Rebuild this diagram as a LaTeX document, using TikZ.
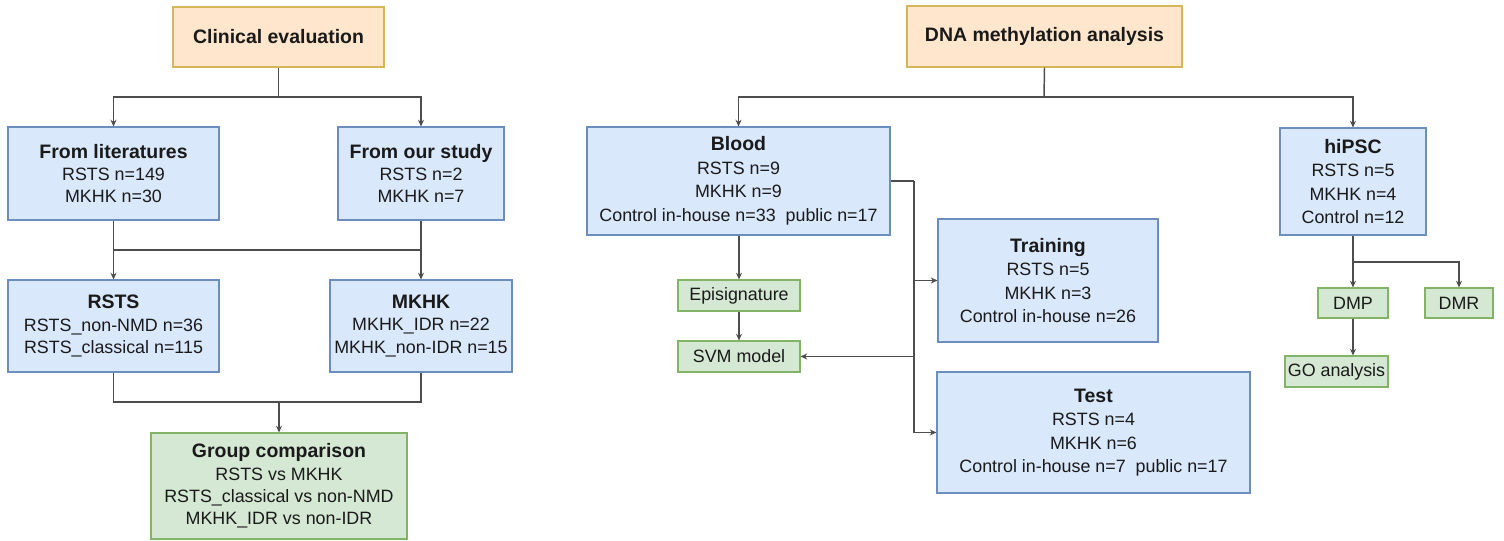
\documentclass[tikz,border=0pt]{standalone}
\usepackage{fontspec}
\setmainfont{Liberation Sans}
\usetikzlibrary{arrows.meta}

\definecolor{hfill}{HTML}{FFE6CC}
\definecolor{hline}{HTML}{D6B656}
\definecolor{dfill}{HTML}{DAE8FC}
\definecolor{dline}{HTML}{6C8EBF}
\definecolor{rfill}{HTML}{D5E8D4}
\definecolor{rline}{HTML}{82B366}
\definecolor{lnk}{HTML}{4D4D4D}
\definecolor{txt}{HTML}{1A1A1A}

\newcommand\ttl[1]{{\bfseries\fontsize{14.6}{16.8}\selectfont #1}}
\newcommand\ttlw[1]{{\bfseries\fontsize{14.6}{17.6}\selectfont #1}}

\tikzset{
  base/.style={draw, line width=0.8pt, inner sep=0pt, align=center, text=txt,
    font=\fontsize{13.4}{16.8}\selectfont},
  wide/.style={font=\fontsize{13.4}{17.6}\selectfont},
  headbox/.style={base, fill=hfill, draw=hline},
  databox/.style={base, fill=dfill, draw=dline},
  resbox/.style={base, fill=rfill, draw=rline},
  sz/.style 2 args={minimum width=#1*0.75pt, minimum height=#2*0.75pt},
  link/.style={draw=lnk, line width=1.1pt},
  arr/.style={link, -{Stealth[length=5pt,width=4.5pt]}},
}

\begin{document}
\begin{tikzpicture}[x=0.75pt, y=-0.75pt]
\useasboundingbox (0,0) rectangle (1504,541);

% ---- clinical branch ----
\node[headbox, sz={211}{60}] (clin) at (278.5,37) {\ttl{Clinical evaluation}};
\node[databox, sz={211}{93}] (lit) at (113.5,173.5)
  {\ttl{From literatures}\\RSTS n=149\\MKHK n=30};
\node[databox, sz={166}{93}] (our) at (421,173.5)
  {\ttl{From our study}\\RSTS n=2\\MKHK n=7};
\node[databox, sz={211}{92}] (rsts) at (113.5,326)
  {\ttl{RSTS}\\RSTS\_non-NMD n=36\\RSTS\_classical n=115};
\node[databox, sz={182}{92}] (mkhk) at (421,326)
  {\ttl{MKHK}\\MKHK\_IDR n=22\\MKHK\_non-IDR n=15};
\node[resbox, sz={256}{106}] (grp) at (279,486)
  {\ttl{Group comparison}\\RSTS vs MKHK\\RSTS\_classical vs non-NMD\\MKHK\_IDR vs non-IDR};

\coordinate (j1) at (278.5,97);
\coordinate (j2) at (279,250);
\coordinate (j3) at (279,402);
\draw[link] (clin.south) -- (j1);
\draw[arr] (j1) -| (lit.north);
\draw[arr] (j1) -| (our.north);
\draw[arr] (lit.south) -- (rsts.north);
\draw[arr] (our.south) -- (mkhk.north);
\draw[link] (lit.south |- j2) -- (our.south |- j2);
\draw[link] (rsts.south) |- (j3) -| (mkhk.south);
\draw[arr] (j3) -- (grp.north);

% ---- methylation branch ----
\node[headbox, sz={275}{61}] (dna) at (1044.5,36.5) {\ttl{DNA methylation analysis}};
\node[databox, wide, sz={303}{108}] (blood) at (738.5,181)
  {\ttlw{Blood}\\RSTS n=9\\MKHK n=9\\Control in-house n=33\ \ public n=17};
\node[databox, wide, sz={146}{107}] (hipsc) at (1353,181.5)
  {\ttlw{hiPSC}\\RSTS n=5\\MKHK n=4\\Control n=12};
\node[databox, wide, sz={220}{123}] (train) at (1048,280.5)
  {\ttlw{Training}\\RSTS n=5\\MKHK n=3\\Control in-house n=26};
\node[databox, wide, sz={313}{121}] (test) at (1093.5,432.5)
  {\ttlw{Test}\\RSTS n=4\\MKHK n=6\\Control in-house n=7\ \ public n=17};
\node[resbox, sz={122}{31}] (epi) at (739,295.5) {Episignature};
\node[resbox, sz={122}{31}] (svm) at (739,356.5) {SVM model};
\node[resbox, sz={70}{30}] (dmp) at (1353,303) {DMP};
\node[resbox, sz={68}{30}] (dmr) at (1459,303) {DMR};
\node[resbox, sz={103}{31}] (go) at (1336.5,371.5) {GO analysis};

\coordinate (j4) at (1044,97);
\coordinate (bj) at (914,181);
\coordinate (j5) at (1353,262);
\draw[link] (dna.south) -- (j4);
\draw[arr] (j4) -| (blood.north);
\draw[arr] (j4) -| (hipsc.north);
\draw[arr] (epi.north |- blood.south) -- (epi.north);
\draw[arr] (epi.south) -- (svm.north);
\draw[link] (blood.east) -- (bj);
\draw[arr] (bj) |- (train.west);
\draw[arr] (bj) |- (test.west);
\draw[arr] (bj |- svm.east) -- (svm.east);
\draw[link] (hipsc.south) -- (j5);
\draw[arr] (j5) -- (dmp.north);
\draw[arr] (j5) -| (dmr.north);
\draw[arr] (dmp.south) -- (dmp.south |- go.north);
\end{tikzpicture}
\end{document}
